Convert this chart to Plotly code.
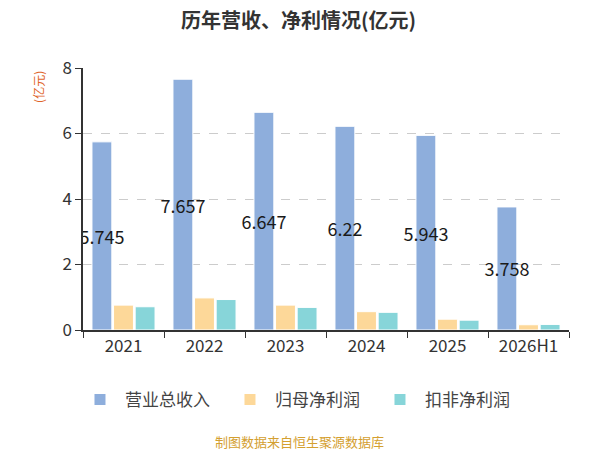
import plotly.graph_objects as go

# 数据
years = ["2021", "2022", "2023", "2024", "2025", "2026H1"]
revenue = [5.745, 7.657, 6.647, 6.22, 5.943, 3.758]
net_profit = [0.76, 0.98, 0.76, 0.56, 0.33, 0.16]
net_profit_ex = [0.71, 0.93, 0.69, 0.54, 0.30, 0.17]
revenue_text = ["5.745", "7.657", "6.647", "6.22", "5.943", "3.758"]

font_family = "Noto Sans CJK SC, Noto Sans, sans-serif"

fig = go.Figure()
fig.add_trace(go.Bar(x=years, y=revenue, name="营业总收入",
                     marker=dict(color="#8eaedc", line=dict(color="#ffffff", width=1)),
                     text=revenue_text, textposition="inside", insidetextanchor="middle",
                     textangle=0, constraintext="none",
                     textfont=dict(size=18, color="#1a1a1a")))
fig.add_trace(go.Bar(x=years, y=net_profit, name="归母净利润",
                     marker=dict(color="#fdd899", line=dict(color="#ffffff", width=1))))
fig.add_trace(go.Bar(x=years, y=net_profit_ex, name="扣非净利润",
                     marker=dict(color="#87d5d9", line=dict(color="#ffffff", width=1))))

# 页面 body 默认有 8px 边距，这里把画布缩小 8px 来对齐
fig.update_layout(
    width=592, height=442,
    margin=dict(l=75, r=31, t=60, b=120),
    paper_bgcolor="white", plot_bgcolor="white",
    font=dict(family=font_family, color="#333333"),
    barmode="group", bargap=0.2, bargroupgap=0.08,
    title=dict(text="<b>历年营收、净利情况(亿元)</b>", x=0.4907, xanchor="center",
               y=0.971, yanchor="middle", font=dict(size=20, color="#333333")),
    showlegend=True,
    legend=dict(orientation="h", x=0.4465, xanchor="center", y=-0.267, yanchor="middle",
                font=dict(size=17, color="#444444"), entrywidth=95, itemwidth=40),
    hovermode="x",
)

fig.update_xaxes(type="category", showline=True, linecolor="#333333", linewidth=1.5,
                 ticks="outside", tickson="boundaries", ticklen=6, tickcolor="#333333",
                 tickfont=dict(size=17, color="#333333"), showgrid=False)
fig.update_yaxes(range=[0, 8], dtick=2, showline=True, linecolor="#333333", linewidth=1.5,
                 ticks="outside", ticklen=6, tickcolor="#333333",
                 tickfont=dict(size=17, color="#333333"),
                 showgrid=True, gridcolor="#cccccc", griddash="dash", gridwidth=1,
                 zeroline=False)

# 单位
fig.add_annotation(text="(亿元)", xref="paper", yref="paper", x=-0.093, y=0.927,
                   xanchor="center", yanchor="middle", textangle=-90, showarrow=False,
                   font=dict(size=12, color="#e0642a"))
# 数据来源
fig.add_annotation(text="制图数据来自恒生聚源数据库", xref="paper", yref="paper",
                   x=0.4465, y=-0.424, xanchor="center", yanchor="middle", showarrow=False,
                   font=dict(size=13, color="#d4a030"))

fig.write_html("out.html")
